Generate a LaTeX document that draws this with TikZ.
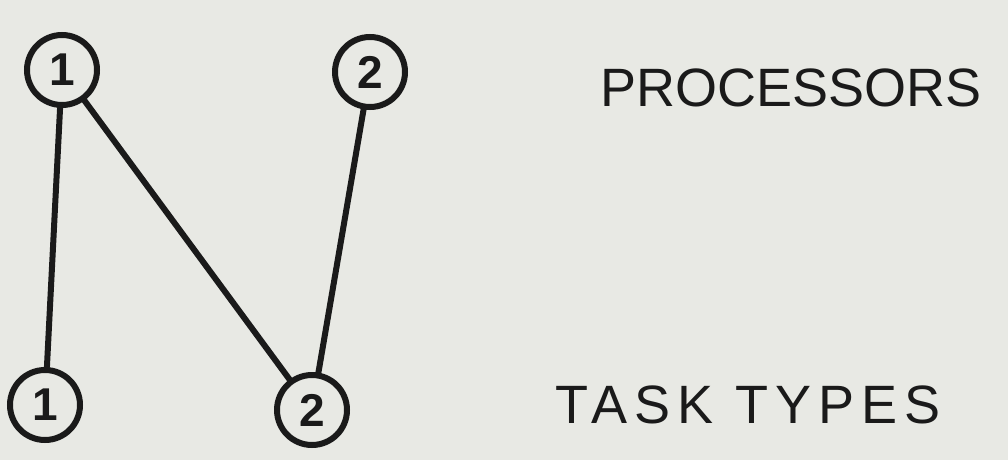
\documentclass[tikz,border=0pt]{standalone}
\usepackage{fontspec}
\setmainfont{Liberation Sans}
\definecolor{bg}{HTML}{E8E9E4}
\definecolor{ink}{HTML}{1A1A1A}
\begin{document}
\begin{tikzpicture}[x=1pt,y=-1pt,
  vert/.style={circle,draw=ink,line width=6pt,minimum size=70pt,inner sep=0pt,font=\fontsize{46}{46}\selectfont\bfseries,text=ink},
  edge/.style={draw=ink,line width=6pt,line cap=round},
  lbl/.style={anchor=west,text=ink,font=\fontsize{54}{54}\selectfont}]
\fill[bg] (0,0) rectangle (1008,460);
\useasboundingbox (0,0) rectangle (1008,460);
\node[vert] (p1) at (62,70) {1};
\node[vert] (p2) at (370,72) {2};
\node[vert] (t1) at (45,405) {1};
\node[vert] (t2) at (312,410) {2};
\draw[edge] (p1) -- (t1);
\draw[edge] (p1) -- (t2);
\draw[edge] (p2) -- (t2);
\node[lbl] (proc) at (597,88) {PROCESSORS};
\node[lbl] (task) at (552,405) {\addfontfeature{LetterSpace=13}TASK TYPES};
\end{tikzpicture}
\end{document}
